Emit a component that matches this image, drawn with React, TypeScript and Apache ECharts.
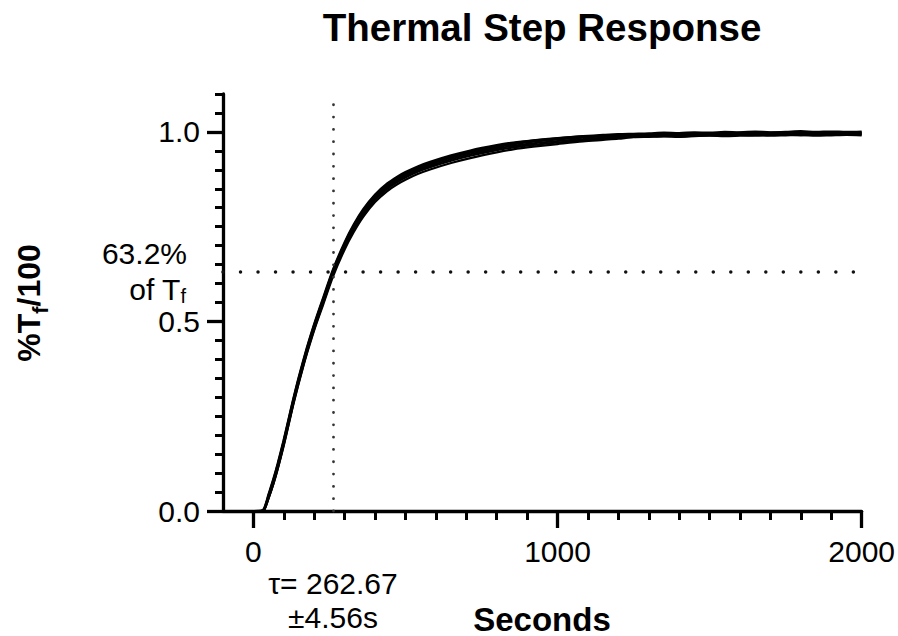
import React, { useEffect, useRef } from "react";
import * as echarts from "echarts";

// Time (s) of each sample, shared by every run
const seconds = [
  -30, 0, 25, 35, 50, 66, 80, 99, 115, 131, 146, 161, 175, 190, 207, 230, 262, 300, 330, 361,
  400, 440, 473, 500, 540, 581, 650, 713, 800, 854, 920, 1000, 1084, 1150, 1200, 1250, 1300,
  1350, 1400, 1450, 1500, 1550, 1600, 1650, 1700, 1750, 1800, 1850, 1900, 1950, 2000,
];

// %Tf/100 for each recorded run
const run1 = [
  0, 0, 0.001, 0.007, 0.045, 0.086, 0.126, 0.186, 0.241, 0.296, 0.344, 0.389, 0.429, 0.469, 0.511,
  0.564, 0.638, 0.709, 0.756, 0.796, 0.835, 0.864, 0.882, 0.894, 0.909, 0.921, 0.938, 0.951, 0.965,
  0.972, 0.978, 0.984, 0.989, 0.992, 0.994,
  0.995, 0.996, 0.998, 0.997, 0.999, 0.998, 1.0, 0.999, 1.001, 0.999, 1.0, 1.002, 1.0, 1.001, 1.0, 1.001,
];
const run2 = [
  0, 0, 0, 0.004, 0.04, 0.08, 0.12, 0.18, 0.235, 0.29, 0.338, 0.383, 0.423, 0.463, 0.505, 0.558,
  0.632, 0.703, 0.75, 0.79, 0.829, 0.858, 0.876, 0.888, 0.903, 0.915, 0.932, 0.945, 0.96, 0.967,
  0.974, 0.98, 0.985, 0.988, 0.99,
  0.992, 0.991, 0.993, 0.994, 0.993, 0.995, 0.996, 0.994, 0.996, 0.997, 0.995, 0.997, 0.996, 0.998, 0.997, 0.997,
];
const run3 = [
  0, 0, 0, 0.003, 0.036, 0.075, 0.115, 0.175, 0.23, 0.285, 0.333, 0.378, 0.418, 0.458, 0.5, 0.553,
  0.627, 0.699, 0.746, 0.786, 0.825, 0.854, 0.872, 0.884, 0.899, 0.911, 0.928, 0.941, 0.956, 0.963,
  0.97, 0.976, 0.981, 0.985, 0.987,
  0.989, 0.99, 0.991, 0.99, 0.992, 0.993, 0.992, 0.994, 0.993, 0.995, 0.994, 0.994, 0.996, 0.995, 0.994, 0.995,
];
const run4 = [
  0, 0, 0, 0.002, 0.034, 0.073, 0.112, 0.172, 0.227, 0.282, 0.33, 0.375, 0.415, 0.455, 0.497, 0.55,
  0.624, 0.695, 0.742, 0.782, 0.821, 0.85, 0.868, 0.88, 0.895, 0.907, 0.924, 0.937, 0.952, 0.959,
  0.966, 0.972, 0.978, 0.982, 0.984,
  0.987, 0.988, 0.989, 0.988, 0.99, 0.991, 0.99, 0.992, 0.991, 0.992, 0.993, 0.991, 0.993, 0.992, 0.993, 0.993,
];
const run5 = [
  0, 0, 0, 0.002, 0.034, 0.072, 0.111, 0.17, 0.225, 0.28, 0.328, 0.373, 0.413, 0.452, 0.494, 0.546,
  0.619, 0.69, 0.736, 0.776, 0.815, 0.844, 0.862, 0.874, 0.889, 0.901, 0.918, 0.931, 0.946, 0.954,
  0.961, 0.968, 0.975, 0.979, 0.982,
  0.986, 0.987, 0.988, 0.987, 0.989, 0.99, 0.989, 0.99, 0.991, 0.99, 0.991, 0.992, 0.99, 0.991, 0.992, 0.991,
];
const run6 = [
  0, 0, 0, 0.005, 0.042, 0.083, 0.123, 0.183, 0.238, 0.293, 0.341, 0.386, 0.426, 0.466, 0.508, 0.561,
  0.635, 0.706, 0.753, 0.793, 0.832, 0.861, 0.879, 0.891, 0.906, 0.918, 0.935, 0.948, 0.963, 0.97,
  0.977, 0.983, 0.988, 0.99, 0.992,
  0.993, 0.994, 0.995, 0.996, 0.995, 0.997, 0.996, 0.998, 0.997, 0.998, 0.999, 0.998, 0.997, 0.999, 0.998, 0.999,
];
const runs = [run1, run2, run3, run4, run5, run6];

// Axis ticks
const xMajorTicks = [0, 1000, 2000];
const xMinorTicks = [100, 200, 300, 400, 500, 600, 700, 800, 900, 1100, 1200, 1300, 1400, 1500, 1600, 1700, 1800, 1900];
const yMajorTicks = [0, 0.5, 1.0];
const yMinorTicks = [0.05, 0.1, 0.15, 0.2, 0.25, 0.3, 0.35, 0.4, 0.45, 0.55, 0.6, 0.65, 0.7, 0.75, 0.8, 0.85, 0.9, 0.95, 1.05, 1.1];

// Fit results
const tau = 262.67;
const tauErr = 4.56;
const fraction = 0.632;

const FONT = '"Liberation Sans", Arial, sans-serif';

function measure(text: string, size: number, bold: boolean): number {
  const c = document.createElement("canvas");
  const ctx = c.getContext("2d");
  if (!ctx) return text.length * size * 0.55;
  ctx.font = `${bold ? "bold " : ""}${size}px ${FONT}`;
  return ctx.measureText(text).width;
}

export default function App() {
  const ref = useRef<HTMLDivElement>(null);

  useEffect(() => {
    document.body.style.margin = "0";
    if (!ref.current) return;
    const chart = echarts.init(ref.current, null, { renderer: "svg" });

    const axisColor = "#000";
    const minorX = {
      type: "value",
      min: -100,
      max: 2000,
      position: "bottom",
      axisLine: { show: true, onZero: false, lineStyle: { color: axisColor, width: 3.3 } },
      axisTick: { show: true, customValues: xMinorTicks, length: 9, lineStyle: { color: axisColor, width: 3 } },
      axisLabel: { show: false },
      splitLine: { show: false },
    };
    const majorX = {
      type: "value",
      min: -100,
      max: 2000,
      position: "bottom",
      axisLine: { show: false, onZero: false },
      axisTick: { show: true, customValues: xMajorTicks, length: 17, lineStyle: { color: axisColor, width: 3.3 } },
      axisLabel: {
        show: true,
        customValues: xMajorTicks,
        margin: 25,
        fontSize: 30,
        fontFamily: FONT,
        color: "#000",
        formatter: (v: number) => String(v),
      },
      splitLine: { show: false },
    };
    const minorY = {
      type: "value",
      min: 0,
      max: 1.1,
      position: "left",
      axisLine: { show: true, onZero: false, lineStyle: { color: axisColor, width: 3.3 } },
      axisTick: { show: true, customValues: yMinorTicks, length: 8, lineStyle: { color: axisColor, width: 3 } },
      axisLabel: { show: false },
      splitLine: { show: false },
    };
    const majorY = {
      type: "value",
      min: 0,
      max: 1.1,
      position: "left",
      axisLine: { show: false, onZero: false },
      axisTick: { show: true, customValues: yMajorTicks, length: 16, lineStyle: { color: axisColor, width: 3.3 } },
      axisLabel: {
        show: true,
        customValues: yMajorTicks,
        margin: 23,
        fontSize: 30,
        fontFamily: FONT,
        color: "#000",
        formatter: (v: number) => v.toFixed(1),
      },
      splitLine: { show: false },
    };

    const series: any[] = runs.map((run, idx) => ({
      type: "line",
      xAxisIndex: 0,
      yAxisIndex: 0,
      data: seconds.map((s, i) => [s, run[i]]),
      showSymbol: false,
      symbol: "none",
      smooth: 0.3,
      lineStyle: { color: "#000", width: 2.2 },
      z: 3,
      markLine:
        idx === 0
          ? {
              silent: true,
              symbol: ["none", "none"],
              label: { show: false },
              data: [
                {
                  yAxis: fraction,
                  lineStyle: { color: "#111", width: 3.5, type: [0.01, 17.5], cap: "round" },
                },
                {
                  xAxis: tau,
                  lineStyle: { color: "#333", width: 2.8, type: [0.01, 12.3], cap: "round" },
                },
              ],
            }
          : undefined,
    }));

    // y-axis title with subscript, rotated
    const wPT = measure("%T", 32, true);
    const wSubF = measure("f", 22, true);
    const w100 = measure("/100", 32, true);
    const wTot = wPT + wSubF + w100;
    const x0 = -wTot / 2;
    const boldMain = { fontSize: 32, fontWeight: "bold", fontFamily: FONT, fill: "#000", verticalAlign: "middle", align: "left" };
    const yTitle = {
      type: "group",
      x: 29,
      y: 303,
      rotation: Math.PI / 2,
      children: [
        { type: "text", x: x0, y: 0, style: { ...boldMain, text: "%T" } },
        { type: "text", x: x0 + wPT, y: 11, style: { ...boldMain, fontSize: 22, lineHeight: 18, text: "f" } },
        { type: "text", x: x0 + wPT + wSubF, y: 0, style: { ...boldMain, text: "/100" } },
      ],
    };

    // "of Tf" with subscript
    const wSubF2 = measure("f", 20, false);

    chart.setOption({
      animation: false,
      backgroundColor: "#fff",
      grid: { left: 223, right: 36, top: 94, bottom: 125, containLabel: false },
      xAxis: [minorX, majorX],
      yAxis: [minorY, majorY],
      series,
      graphic: [
        {
          type: "text",
          x: 542,
          y: 27.5,
          style: {
            text: "Thermal Step Response",
            fontSize: 38.5,
            fontWeight: "bold",
            fontFamily: FONT,
            fill: "#000",
            align: "center",
            verticalAlign: "middle",
          },
        },
        yTitle,
        {
          type: "text",
          x: 187,
          y: 253,
          style: {
            text: (fraction * 100).toFixed(1) + "%",
            fontSize: 30,
            fontFamily: FONT,
            fill: "#000",
            align: "right",
            verticalAlign: "middle",
          },
        },
        {
          type: "text",
          x: 186 - wSubF2,
          y: 289,
          style: {
            text: "of T",
            fontSize: 30,
            lineHeight: 26,
            fontFamily: FONT,
            fill: "#000",
            align: "right",
            verticalAlign: "middle",
          },
        },
        {
          type: "text",
          x: 186,
          y: 296,
          style: {
            text: "f",
            fontSize: 20,
            lineHeight: 16,
            fontFamily: FONT,
            fill: "#000",
            align: "right",
            verticalAlign: "middle",
          },
        },
        {
          type: "text",
          x: 333,
          y: 600,
          style: {
            text: "τ= " + tau.toFixed(2) + "\n±" + tauErr.toFixed(2) + "s",
            fontSize: 30,
            lineHeight: 34,
            fontFamily: FONT,
            fill: "#000",
            align: "center",
            verticalAlign: "middle",
          },
        },
        {
          type: "text",
          x: 542,
          y: 619,
          style: {
            text: "Seconds",
            fontSize: 33,
            lineHeight: 30,
            fontWeight: "bold",
            fontFamily: FONT,
            fill: "#000",
            align: "center",
            verticalAlign: "middle",
          },
        },
      ],
    });

    return () => {
      chart.dispose();
    };
  }, []);

  return <div ref={ref} style={{ width: 898, height: 636 }} />;
}
